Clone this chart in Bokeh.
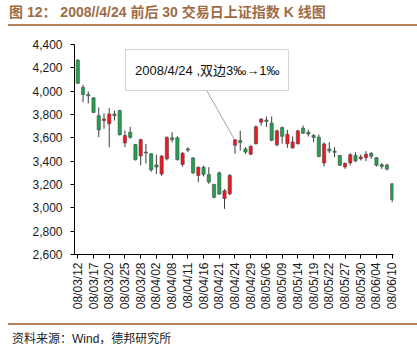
import math
from bokeh.plotting import figure
from bokeh.layouts import column
from bokeh.models import Range1d, FixedTicker, NumeralTickFormatter, BoxAnnotation, Label, ColumnDataSource, Div
from bokeh.embed import file_html
from bokeh.resources import INLINE

# ---------------- data ----------------
dates = ["08/03/12", "08/03/13", "08/03/14", "08/03/17", "08/03/18", "08/03/19", "08/03/20", "08/03/21",
         "08/03/24", "08/03/25", "08/03/26", "08/03/27", "08/03/28", "08/03/31", "08/04/01", "08/04/02",
         "08/04/03", "08/04/07", "08/04/08", "08/04/09", "08/04/10", "08/04/11", "08/04/14", "08/04/15",
         "08/04/16", "08/04/17", "08/04/18", "08/04/21", "08/04/22", "08/04/23", "08/04/24", "08/04/25",
         "08/04/28", "08/04/29", "08/04/30", "08/05/05", "08/05/06", "08/05/07", "08/05/08", "08/05/09",
         "08/05/12", "08/05/13", "08/05/14", "08/05/15", "08/05/16", "08/05/19", "08/05/20", "08/05/21",
         "08/05/22", "08/05/23", "08/05/26", "08/05/27", "08/05/28", "08/05/29", "08/05/30", "08/06/02",
         "08/06/03", "08/06/04", "08/06/05", "08/06/06", "08/06/10"]

open_ = [4265, 4032, 3972, 3943, 3790, 3748, 3720, 3805, 3834, 3556,
         3648, 3542, 3445, 3478, 3463, 3368, 3290, 3420, 3600, 3600,
         3372, 3505, 3428, 3278, 3348, 3286, 3200, 3300, 3080, 3120,
         3536, 3577, 3505, 3460, 3550, 3734, 3752, 3726, 3540, 3688,
         3549, 3514, 3549, 3683, 3648, 3620, 3606, 3385, 3505, 3486,
         3449, 3350, 3385, 3449, 3420, 3430, 3468, 3430, 3370, 3368,
         3206]
high = [4275, 4055, 3998, 3948, 3860, 3810, 3855, 3833, 3840, 3662,
        3695, 3548, 3592, 3548, 3469, 3455, 3450, 3614, 3648, 3614,
        3477, 3520, 3434, 3354, 3362, 3348, 3206, 3310, 3160, 3290,
        3590, 3660, 3520, 3537, 3706, 3770, 3783, 3783, 3669, 3697,
        3669, 3611, 3669, 3706, 3669, 3634, 3629, 3563, 3563, 3520,
        3452, 3391, 3469, 3477, 3457, 3486, 3477, 3434, 3383, 3377,
        3211]
low = [4062, 3905, 3895, 3813, 3606, 3678, 3520, 3748, 3620, 3520,
       3592, 3406, 3365, 3380, 3309, 3290, 3272, 3406, 3562, 3406,
       3352, 3477, 3289, 3220, 3269, 3206, 3082, 3112, 2991, 3108,
       3463, 3490, 3463, 3451, 3543, 3706, 3694, 3571, 3526, 3549,
       3514, 3506, 3543, 3634, 3611, 3563, 3434, 3354, 3469, 3434,
       3360, 3334, 3363, 3391, 3406, 3400, 3420, 3354, 3334, 3320,
       3049]
close = [4068, 3972, 3960, 3818, 3668, 3762, 3805, 3790, 3627, 3620,
         3604, 3412, 3585, 3470, 3325, 3350, 3444, 3602, 3585, 3412,
         3468, 3495, 3300, 3348, 3287, 3222, 3090, 3118, 3147, 3278,
         3583, 3560, 3478, 3527, 3695, 3761, 3740, 3580, 3660, 3613,
         3630, 3565, 3660, 3640, 3632, 3603, 3440, 3548, 3488, 3476,
         3364, 3380, 3455, 3402, 3436, 3460, 3442, 3365, 3355, 3332,
         3072]

y_ticks = [2600, 2800, 3000, 3200, 3400, 3600, 3800, 4000, 4200, 4400]
tick_every = 3

title_text = "图 12：  2008//4/24 前后 30 交易日上证指数 K 线图"
source_text = "资料来源：Wind，德邦研究所"
ann_date = "08/04/24"
ann_text = "2008/4/24 ,双边3‰→1‰"

# ---------------- styles ----------------
W = 417
BROWN_TXT = "#9e6c45"
BROWN_LINE = "#b5845c"
GREEN = "#21a04e"
RED = "#f5141c"
WICK = "#3c3c3c"
LAT = "Liberation Sans"
MIX = "Liberation Sans, Noto Sans CJK SC"
CSS_FONT = "'Liberation Sans','Noto Sans CJK SC',sans-serif"

# ---------------- header ----------------
hdr = Div(width=W, height=30, margin=0, text=(
    f'<div style="position:relative;margin:0 0 0 8px;width:409px;height:30px;">'
    f'<div style="position:absolute;left:1px;top:2px;line-height:20px;font-family:{CSS_FONT};'
    f'font-size:14px;font-weight:bold;color:{BROWN_TXT};white-space:nowrap;">{title_text}</div>'
    f'<div style="position:absolute;left:0;top:23.5px;width:409px;height:2px;background:{BROWN_LINE};"></div>'
    f'</div>'))

# ---------------- main chart ----------------
n = len(dates)
xs = list(range(n))
src = ColumnDataSource(dict(
    x=xs,
    high=high,
    low=low,
    top=[max(o, c) for o, c in zip(open_, close)],
    bottom=[min(o, c) for o, c in zip(open_, close)],
    color=[RED if c > o else GREEN for o, c in zip(open_, close)],
))

p = figure(width=W, height=290, x_range=Range1d(-0.63, n - 1 + 0.25), y_range=Range1d(2600, 4400),
           min_border_left=74, min_border_right=24, min_border_top=14, min_border_bottom=66,
           toolbar_location=None, output_backend="svg", margin=0)
p.xgrid.visible = False
p.ygrid.visible = False
p.outline_line_color = None
p.background_fill_color = "white"
p.border_fill_color = "white"

p.segment(x0="x", y0="high", x1="x", y1="low", source=src, line_color=WICK, line_width=1)
p.vbar(x="x", width=0.62, top="top", bottom="bottom", source=src,
       fill_color="color", line_color="#4a4a4a", line_width=0.6)

# annotation box + leader
ai = dates.index(ann_date)
box = BoxAnnotation(left=9.1, right=40.2, top=4357, bottom=4006,
                    fill_color="white", fill_alpha=1.0, line_color="#6e6e6e", line_width=1)
p.add_layout(box)
p.segment(x0=[24.6], y0=[4006], x1=[ai - 0.15], y1=[high[ai]], line_color="#a6a6a6", line_width=1)
p.add_layout(Label(x=24.7, y=4175, text=ann_text, text_font=MIX, text_font_size="13px",
                   text_color="#111111", text_align="center", text_baseline="middle"))

# axes
p.yaxis.ticker = FixedTicker(ticks=y_ticks)
p.yaxis.formatter = NumeralTickFormatter(format="0,0")
p.xaxis.ticker = FixedTicker(ticks=list(range(0, n, tick_every)))
p.xaxis.major_label_overrides = {i: dates[i] for i in range(0, n, tick_every)}
p.xaxis.major_label_orientation = math.pi / 2
for ax in (p.xaxis, p.yaxis):
    ax.axis_line_color = "#000000"
    ax.axis_line_width = 1
    ax.major_tick_line_color = "#000000"
    ax.major_tick_in = 0
    ax.major_tick_out = 4
    ax.minor_tick_line_color = None
    ax.major_label_text_font = LAT
    ax.major_label_text_font_size = "12px"
    ax.major_label_text_color = "#1a1a1a"
p.yaxis.major_label_standoff = 8
p.xaxis.major_label_standoff = 4

# ---------------- footer ----------------
ftr = Div(width=W, height=33, margin=0, text=(
    f'<div style="position:relative;margin:0 0 0 8px;width:409px;height:33px;">'
    f'<div style="position:absolute;left:0;top:3.3px;width:409px;height:2px;background:{BROWN_LINE};"></div>'
    f'<div style="position:absolute;left:4px;top:9px;line-height:20px;font-family:{CSS_FONT};'
    f'font-size:12px;color:#222222;white-space:nowrap;">{source_text}</div>'
    f'</div>'))

layout = column(hdr, p, ftr, spacing=0)
open("out.html", "w").write(file_html(layout, INLINE))
